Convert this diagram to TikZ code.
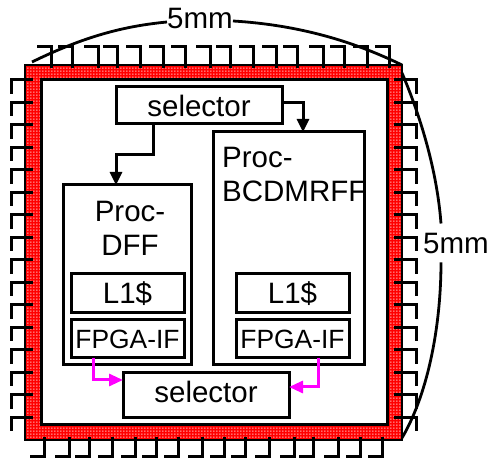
\documentclass[tikz,border=0pt]{standalone}
\usepackage{fontspec}
\setmainfont{Liberation Sans}
\usepackage{tikz}
\usetikzlibrary{arrows.meta,positioning,patterns}
\definecolor{ringred}{RGB}{255,0,0}
\definecolor{sigpink}{RGB}{255,0,255}
\pgfdeclarepatternformonly{ringdots}{\pgfqpoint{0pt}{0pt}}{\pgfqpoint{3pt}{3pt}}{\pgfqpoint{3pt}{3pt}}{
  \pgfpathrectangle{\pgfqpoint{0.6pt}{0.6pt}}{\pgfqpoint{1.3pt}{1.3pt}}
  \pgfusepath{fill}
}

\begin{document}
\begin{tikzpicture}[
  x=1pt,y=-1pt,
  node distance=7pt,
  box/.style={rectangle,draw=black,fill=white,line width=3pt,outer sep=0pt,inner sep=0pt,
              font=\fontsize{29.5}{34}\selectfont,text centered},
  cache/.style={box,minimum width=113pt,minimum height=39pt},
  iface/.style={box,minimum width=113pt,minimum height=38pt,font=\fontsize{26.4}{30}\selectfont},
  title/.style={inner sep=0pt,font=\fontsize{29.5}{34}\selectfont},
  dimlabel/.style={inner xsep=0pt,inner ysep=9pt,font=\fontsize{29.5}{34}\selectfont},
  lead/.style={line width=3pt,black},
  dim/.style={line width=2.8pt,black},
  arr/.style={-{Triangle[length=13pt,width=12pt]},line width=3pt,black},
  sig/.style={-{Triangle[length=14pt,width=12pt]},line width=3pt,sigpink}
]
  \useasboundingbox (0,0) rectangle (491,462);

  % package ring
  \node[rectangle,draw=black,line width=1.2pt,outer sep=0pt,minimum width=377pt,minimum height=375pt,
        preaction={fill=ringred},pattern=ringdots,pattern color=white](chip) at (213.5,252.5){};
  \node[box,minimum width=346pt,minimum height=345pt](core) at (214,252.5){};

  % leads
  \foreach \x in {51,72,98,117,140,163,185,210,230,253,276,297,323,344,367,389}
    \draw[lead](\x,68)--(\x,47)--(\x-14,47);
  \foreach \x in {44,69,89,112,135,156,178,202,224,245,269,294,313,338,360,382}
    \draw[lead](\x,437)--(\x,457)--(\x-14,457);
  \foreach \i in {0,...,15}{
    \draw[lead](33,80+22.5*\i)--(11,80+22.5*\i)--(11,94+22.5*\i);
    \draw[lead](394,80+22.5*\i)--(416,80+22.5*\i)--(416,94+22.5*\i);
  }

  \node[box,minimum width=166pt,minimum height=37pt](seltop) at (199,105.5){selector};
  \node[box,minimum width=128pt,minimum height=180pt](procd) at (127,275){};
  \node[box,minimum width=151pt,minimum height=233pt](procb) at (288.5,248.5){};
  \node[title,align=center](procdt) at (130,228){Proc-\\DFF};
  \node[title,align=left,anchor=north west](procbt) at (222,147){Proc-\\BCDMRFF};

  \node[cache](cached) at (127.5,293.5){L1\$};
  \node[iface,below=7pt of cached](fpgad){FPGA-IF};
  \node[cache](cacheb) at (292.5,293.5){L1\$};
  \node[iface,below=7pt of cacheb](fpgab){FPGA-IF};
  \node[box,minimum width=166pt,minimum height=45pt,text depth=8pt](selbot) at (206,395.5){selector};

  \draw[arr]([xshift=-46pt]seltop.south)--++(0,31)-|([xshift=-11pt]procd.north);
  \draw[arr]([yshift=2.5pt]seltop.east)-|([xshift=14.5pt]procb.north);
  \draw[sig]([xshift=-34.5pt]fpgad.south)|-([yshift=15.5pt]selbot.west);
  \draw[sig]([xshift=25.5pt]fpgab.south)|-([yshift=8.5pt]selbot.east);

  % size marks
  \node[dimlabel](dimt) at (200,18){5mm};
  \node[dimlabel](dimr) at (456,243){5mm};
  \draw[dim]([shift={(7pt,3pt)}]chip.north west) .. controls (85,36) and (125,26) .. ([yshift=-4pt]dimt.west);
  \draw[dim]([yshift=-3pt]dimt.east) .. controls (300,25) and (355,42) .. (chip.north east);
  \draw[dim]([yshift=-8pt]chip.north east) .. controls (420,115) and (437,170) .. ([xshift=-15pt]dimr.north);
  \draw[dim]([xshift=-15pt]dimr.south) .. controls (441,320) and (430,390) .. ([yshift=2pt]chip.south east);
\end{tikzpicture}
\end{document}
